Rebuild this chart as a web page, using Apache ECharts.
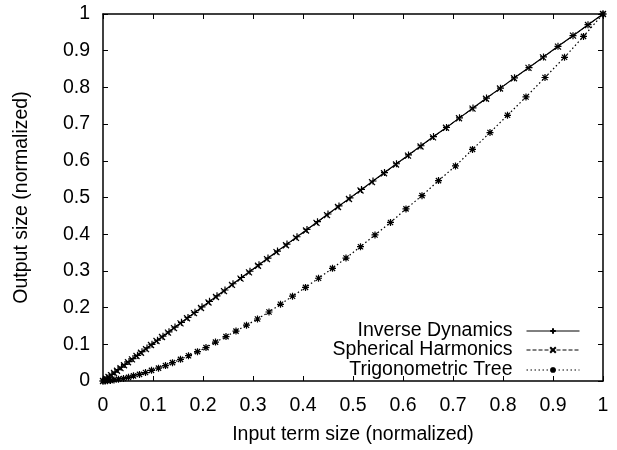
<!DOCTYPE html>
<html>
<head>
<meta charset="utf-8">
<script src="https://cdn.jsdelivr.net/npm/echarts@6/dist/echarts.min.js"></script>
<style>html,body{margin:0;padding:0;background:#fff}#c{width:617px;height:450px}</style>
</head>
<body>
<div id="c"></div>
<script>
const seriesNames = ['Inverse Dynamics', 'Spherical Harmonics', 'Trigonometric Tree'];
const xTitle = 'Input term size (normalized)';
const yTitle = 'Output size (normalized)';

const idX = [0, 0.004, 0.008, 0.013, 0.018, 0.024, 0.030, 0.037, 0.044, 0.052, 0.060, 0.069, 0.078, 0.088, 0.098, 0.109, 0.120, 0.132, 0.144, 0.157, 0.170, 0.184, 0.198, 0.213, 0.228, 0.244, 0.260, 0.277, 0.294, 0.312, 0.330, 0.349, 0.368, 0.388, 0.408, 0.429, 0.450, 0.472, 0.494, 0.517, 0.540, 0.563, 0.587, 0.611, 0.636, 0.661, 0.687, 0.713, 0.740, 0.767, 0.795, 0.823, 0.852, 0.881, 0.910, 0.940, 0.970, 1.0];
const idY = [0, 0.004, 0.008, 0.013, 0.018, 0.024, 0.031, 0.038, 0.045, 0.053, 0.061, 0.070, 0.080, 0.090, 0.100, 0.111, 0.122, 0.134, 0.147, 0.160, 0.173, 0.187, 0.202, 0.217, 0.232, 0.248, 0.265, 0.282, 0.299, 0.317, 0.335, 0.354, 0.373, 0.393, 0.413, 0.434, 0.455, 0.477, 0.499, 0.522, 0.545, 0.568, 0.592, 0.616, 0.641, 0.666, 0.691, 0.717, 0.744, 0.771, 0.798, 0.826, 0.854, 0.883, 0.912, 0.941, 0.971, 1.0];

const shX = [0, 0.006, 0.011, 0.016, 0.022, 0.028, 0.035, 0.042, 0.050, 0.058, 0.067, 0.076, 0.086, 0.096, 0.107, 0.118, 0.130, 0.142, 0.155, 0.168, 0.182, 0.196, 0.211, 0.226, 0.242, 0.258, 0.275, 0.292, 0.310, 0.328, 0.347, 0.366, 0.386, 0.406, 0.427, 0.448, 0.470, 0.492, 0.515, 0.538, 0.562, 0.586, 0.610, 0.635, 0.660, 0.686, 0.712, 0.739, 0.766, 0.794, 0.822, 0.851, 0.880, 0.910, 0.940, 0.970, 1.0];
const shY = [0, 0.006, 0.011, 0.016, 0.022, 0.028, 0.035, 0.043, 0.051, 0.059, 0.068, 0.077, 0.087, 0.098, 0.109, 0.120, 0.132, 0.144, 0.157, 0.171, 0.185, 0.199, 0.214, 0.229, 0.245, 0.262, 0.279, 0.296, 0.314, 0.332, 0.351, 0.370, 0.390, 0.410, 0.431, 0.452, 0.474, 0.496, 0.519, 0.542, 0.566, 0.590, 0.614, 0.639, 0.664, 0.690, 0.716, 0.742, 0.769, 0.797, 0.825, 0.853, 0.882, 0.911, 0.941, 0.970, 1.0];

const ttX = [0, 0.004, 0.009, 0.015, 0.022, 0.031, 0.041, 0.051, 0.061, 0.073, 0.085, 0.097, 0.111, 0.125, 0.139, 0.155, 0.171, 0.189, 0.206, 0.225, 0.246, 0.266, 0.287, 0.309, 0.332, 0.355, 0.379, 0.405, 0.431, 0.459, 0.486, 0.515, 0.544, 0.575, 0.606, 0.638, 0.671, 0.705, 0.739, 0.774, 0.809, 0.846, 0.884, 0.923, 0.961, 1.0];
const ttY = [0, 0.0003, 0.0008, 0.0017, 0.003, 0.005, 0.007, 0.010, 0.014, 0.018, 0.023, 0.029, 0.035, 0.042, 0.050, 0.059, 0.069, 0.080, 0.091, 0.106, 0.121, 0.136, 0.152, 0.169, 0.188, 0.209, 0.231, 0.255, 0.280, 0.307, 0.335, 0.366, 0.398, 0.432, 0.469, 0.505, 0.546, 0.586, 0.631, 0.677, 0.724, 0.774, 0.827, 0.882, 0.939, 1.0];

const FONT = 'Liberation Sans, Arial, sans-serif';
const FS = 19.5;

function pairs(xs, ys) { return xs.map((x, i) => [x, ys[i]]); }

const symPlus = 'path://M0,4H8M4,0V8';
const symCross = 'path://M0,0L8,8M8,0L0,8';
const symStar = 'path://M0,4H8M4,0V8M1,1L7,7M7,1L1,7';

const chart = echarts.init(document.getElementById('c'), null, {renderer: 'canvas'});

function axisBase(extra) {
  return Object.assign({
    type: 'value', min: 0, max: 1, interval: 0.1,
    splitLine: {show: false},
    axisLine: {show: true, onZero: false, lineStyle: {color: '#000', width: 1.5}},
    axisTick: {show: true, inside: true, length: 5, lineStyle: {color: '#000', width: 1}},
    axisLabel: {show: false},
  }, extra);
}
const labelFmt = v => (Math.round(v * 10) / 10).toString();

const legends = seriesNames.map((n, i) => ({
  data: [n], right: 37, top: [321, 340, 360][i], orient: 'vertical', align: 'right',
  itemWidth: 53, itemHeight: 7, padding: 0,
  lineStyle: {width: 1},
  textStyle: {fontFamily: FONT, fontSize: FS, color: '#000', padding: [0, 9, 0, 0]},
  selectedMode: false
}));

chart.setOption({
  animation: false,
  grid: {left: 103, right: 14, top: 14, bottom: 67, containLabel: false},
  legend: legends,
  xAxis: [
    axisBase({position: 'bottom', name: xTitle, nameLocation: 'middle', nameGap: 44,
      nameTextStyle: {fontFamily: FONT, fontSize: FS, color: '#000'},
      axisLabel: {show: true, margin: 15, fontFamily: FONT, fontSize: FS, color: '#000', formatter: labelFmt}}),
    axisBase({position: 'top'})
  ],
  yAxis: [
    axisBase({position: 'left', name: yTitle, nameLocation: 'middle', nameGap: 71,
      nameTextStyle: {fontFamily: FONT, fontSize: FS, color: '#000'},
      axisLabel: {show: true, margin: 13, fontFamily: FONT, fontSize: FS, color: '#000', formatter: labelFmt}}),
    axisBase({position: 'right'})
  ],
  series: [
    {name: seriesNames[0], type: 'line', data: pairs(idX, idY), symbol: symPlus, symbolSize: 7,
      lineStyle: {color: '#000', width: 1.2, type: 'solid'},
      itemStyle: {color: '#000', borderColor: '#000', borderWidth: 1.2}, emphasis: {disabled: true}},
    {name: seriesNames[1], type: 'line', data: pairs(shX, shY), symbol: symCross, symbolSize: 6,
      lineStyle: {color: '#000', width: 1, type: [4, 2]},
      itemStyle: {color: '#000', borderColor: '#000', borderWidth: 1.2}, emphasis: {disabled: true}},
    {name: seriesNames[2], type: 'line', data: pairs(ttX, ttY), symbol: symStar, symbolSize: 7,
      lineStyle: {color: '#000', width: 1.2, type: [1.5, 2.5]},
      itemStyle: {color: '#000', borderColor: '#000', borderWidth: 1.2}, emphasis: {disabled: true}}
  ]
});
</script>
</body>
</html>
